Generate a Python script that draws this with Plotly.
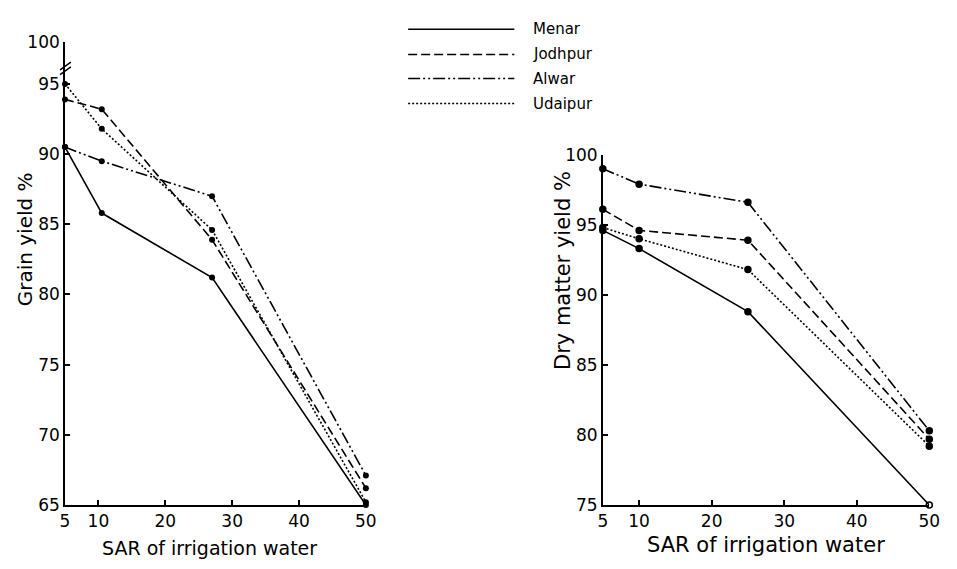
import plotly.graph_objects as go

W, H = 957, 569

# ---------------- data ----------------
sites = ["Menar", "Jodhpur", "Alwar", "Udaipur"]

sar_left = [5, 10.5, 27, 50]
grain_menar = [90.5, 85.8, 81.2, 65.0]
grain_jodhpur = [93.9, 93.2, 83.9, 66.2]
grain_alwar = [90.5, 89.5, 87.0, 67.1]
grain_udaipur = [95.0, 91.8, 84.6, 65.2]

sar_right = [5, 10, 25, 50]
dry_menar = [94.6, 93.3, 88.8, 75.0]
dry_jodhpur = [96.1, 94.6, 93.9, 79.7]
dry_alwar = [99.0, 97.9, 96.6, 80.3]
dry_udaipur = [94.8, 94.0, 91.8, 79.2]

x_ticks = [5, 10, 20, 30, 40, 50]
left_y_ticks = [65, 70, 75, 80, 85, 90, 95, 98.0]
left_y_ticktext = ["65", "70", "75", "80", "85", "90", "95", "100"]
right_y_ticks = [75, 80, 85, 90, 95, 100]

# ---------------- styles ----------------
dashes = {
    "Menar": "solid",
    "Jodhpur": "9px,4px",
    "Alwar": "12px,3px,2px,3px,2px,3px",
    "Udaipur": "2px,2px",
}
FONT = "DejaVu Sans"


def px(x):
    return x / W


def py(y):
    return 1 - y / H


fig = go.Figure()

left_series = dict(Menar=grain_menar, Jodhpur=grain_jodhpur, Alwar=grain_alwar, Udaipur=grain_udaipur)
right_series = dict(Menar=dry_menar, Jodhpur=dry_jodhpur, Alwar=dry_alwar, Udaipur=dry_udaipur)

for s in sites:
    fig.add_trace(go.Scatter(
        x=sar_left, y=left_series[s], mode="lines+markers", name=s,
        line=dict(color="black", width=1.6, dash=dashes[s]),
        marker=dict(color="black", size=6),
        xaxis="x", yaxis="y", showlegend=False, cliponaxis=False))

for s in sites:
    symbols = ["circle"] * len(sar_right)
    if s == "Menar":
        symbols[-1] = "circle-open"
    fig.add_trace(go.Scatter(
        x=sar_right, y=right_series[s], mode="lines+markers", name=s,
        line=dict(color="black", width=1.6, dash=dashes[s]),
        marker=dict(color="black", size=6, symbol=symbols, line=dict(color="black", width=1.5)),
        xaxis="x2", yaxis="y2", showlegend=False, cliponaxis=False))

axis_common = dict(
    showline=True, linecolor="black", linewidth=1.6, showgrid=False, zeroline=False,
    ticks="inside", ticklen=5, tickwidth=1.5, tickcolor="black",
    tickfont=dict(family=FONT, size=17, color="black"),
)

fig.update_layout(
    width=W, height=H,
    margin=dict(l=0, r=0, t=0, b=0),
    paper_bgcolor="white", plot_bgcolor="white",
    xaxis=dict(domain=[px(61), px(367)], range=[5, 50], tickvals=x_ticks, anchor="y", **axis_common),
    yaxis=dict(domain=[py(513), py(33)], range=[65, 98.0], tickvals=left_y_ticks,
               ticktext=left_y_ticktext, anchor="x", **axis_common),
    xaxis2=dict(domain=[px(608), px(940)], range=[5, 50], tickvals=x_ticks, anchor="y2", **axis_common),
    yaxis2=dict(domain=[py(513), py(150)], range=[75, 100], tickvals=right_y_ticks, anchor="x2", **axis_common),
    showlegend=False,
)


def tfont(size):
    return dict(family=FONT, size=size, color="black")


# axis titles
fig.add_annotation(x=px(208), y=py(558), xref="paper", yref="paper", text="SAR of irrigation water",
                   showarrow=False, xanchor="center", yanchor="middle", font=tfont(19))
fig.add_annotation(x=px(774), y=py(555), xref="paper", yref="paper", text="SAR of irrigation water",
                   showarrow=False, xanchor="center", yanchor="middle", font=tfont(21))
fig.add_annotation(x=px(20), y=py(238), xref="paper", yref="paper", text="Grain yield %",
                   showarrow=False, textangle=-90, xanchor="center", yanchor="middle", font=tfont(20))
fig.add_annotation(x=px(567), y=py(270), xref="paper", yref="paper", text="Dry matter yield %",
                   showarrow=False, textangle=-90, xanchor="center", yanchor="middle", font=tfont(21))

# axis break marks on left y axis
for dy in (0, 5):
    fig.add_shape(type="line", xref="paper", yref="paper",
                  x0=px(56), y0=py(62 + dy), x1=px(67), y1=py(54 + dy),
                  line=dict(color="black", width=1.5))

# manual legend
legend_rows = [20, 46, 71, 97]
for s, yrow in zip(sites, legend_rows):
    fig.add_shape(type="line", xref="paper", yref="paper",
                  x0=px(410), x1=px(518), y0=py(yrow), y1=py(yrow),
                  line=dict(color="black", width=1.5, dash=dashes[s]))
    fig.add_annotation(x=px(535), y=py(yrow), xref="paper", yref="paper", text=s,
                       xanchor="left", yanchor="middle", showarrow=False,
                       font=dict(family=FONT, size=15, color="black"))

fig.write_html("out.html")
